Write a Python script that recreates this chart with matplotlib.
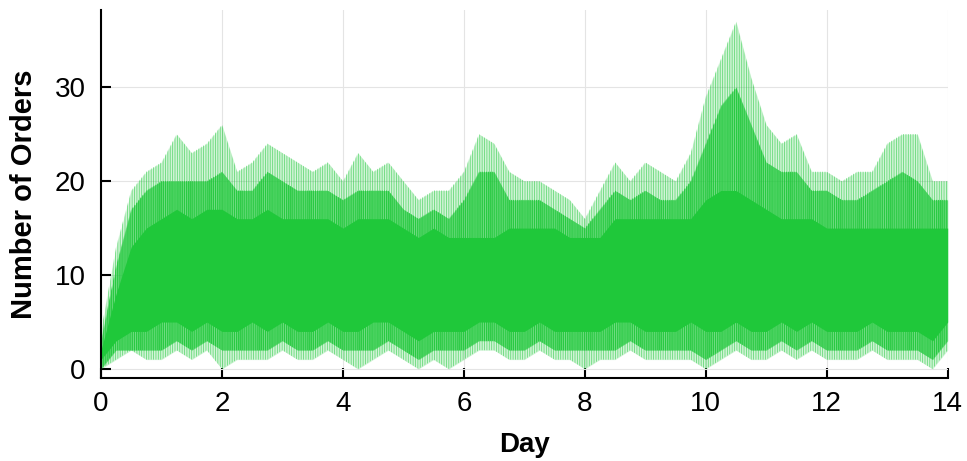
import numpy as np
import matplotlib.pyplot as plt

plt.rcParams["font.family"] = ["Liberation Sans", "DejaVu Sans"]
plt.rcParams["hatch.linewidth"] = 0.6

days = np.arange(0, 14.01, 0.25)

# highest value reached by any run
upper_max = [4, 13, 19, 21, 22, 25, 23, 24, 26, 21, 22, 24, 23, 22, 21, 22,
             20, 23, 21, 22, 20, 18, 19, 19, 21, 25, 24, 21, 20, 20, 19, 18,
             16, 19, 22, 20, 22, 21, 20, 23, 29, 33, 37, 31, 26, 24, 25, 21,
             21, 20, 21, 21, 24, 25, 25, 20, 20]
# top of the well-populated band
upper_mid = [3, 11, 17, 19, 20, 20, 20, 20, 21, 19, 19, 21, 20, 19, 19, 19,
             18, 19, 19, 19, 17, 16, 17, 16, 18, 21, 21, 18, 18, 18, 17, 16,
             15, 17, 19, 18, 19, 18, 18, 20, 24, 28, 30, 26, 22, 21, 21, 19,
             19, 18, 18, 19, 20, 21, 20, 18, 18]
# top of the solid core
upper_core = [2, 8, 13, 15, 16, 17, 16, 17, 17, 16, 16, 17, 16, 16, 16, 16,
              15, 16, 16, 16, 15, 14, 15, 14, 14, 14, 14, 15, 15, 15, 15, 14,
              14, 14, 16, 16, 16, 16, 16, 16, 18, 19, 19, 18, 17, 16, 16, 16,
              15, 15, 15, 15, 15, 15, 15, 15, 15]
# bottom of the solid core
lower_core = [1, 3, 4, 4, 5, 5, 4, 5, 4, 4, 5, 4, 5, 4, 4, 5,
              4, 4, 5, 5, 4, 3, 4, 4, 4, 5, 5, 4, 4, 5, 4, 4,
              4, 4, 5, 5, 4, 4, 4, 5, 4, 4, 5, 4, 4, 5, 4, 5,
              4, 4, 4, 5, 4, 4, 4, 3, 5]
# bottom of the well-populated band
lower_mid = [0, 2, 2, 2, 2, 3, 2, 3, 2, 2, 2, 2, 3, 2, 2, 3,
             2, 2, 2, 3, 2, 1, 2, 2, 2, 3, 3, 2, 2, 3, 2, 2,
             2, 2, 2, 3, 2, 2, 2, 2, 1, 2, 3, 2, 2, 3, 2, 3,
             2, 2, 2, 3, 2, 2, 2, 1, 3]
# lowest value reached by any run
lower_min = [0, 1, 2, 1, 1, 2, 1, 2, 0, 1, 1, 1, 2, 1, 1, 2,
             1, 0, 1, 2, 1, 0, 1, 0, 1, 2, 2, 1, 1, 2, 1, 1,
             0, 1, 1, 2, 1, 1, 1, 1, 0, 1, 2, 1, 1, 2, 1, 2,
             1, 1, 1, 2, 1, 1, 1, 0, 2]

green = "#1fc83a"

fig = plt.figure(figsize=(9.67, 4.61), dpi=100)
ax = fig.add_axes([0.1044, 0.180, 0.8756, 0.798])

# sparse outer band: faint fill with thin vertical strokes, like overlapping runs
ax.fill_between(days, lower_min, upper_max, color=green, alpha=0.2, lw=0)
ax.fill_between(days, lower_min, upper_max, facecolor="none", edgecolor=green,
                hatch="|||||||", lw=0, alpha=0.6)
ax.fill_between(days, lower_mid, upper_mid, color=green, alpha=0.55, lw=0)
ax.fill_between(days, lower_mid, upper_mid, facecolor="none", edgecolor=green,
                hatch="||||||||", lw=0)
ax.fill_between(days, lower_core, upper_core, color=green, lw=0)

ax.set_xlim(0, 14)
ax.set_ylim(-0.96, 38.2)
ax.set_xticks(range(0, 15, 2))
ax.set_yticks([0, 10, 20, 30])
ax.grid(True, color="#e4e4e4", lw=0.8)
ax.set_axisbelow(True)

for side in ("top", "right"):
    ax.spines[side].set_visible(False)
for side in ("left", "bottom"):
    ax.spines[side].set_linewidth(1.5)
ax.tick_params(direction="in", length=7, width=1.5, labelsize=20)
ax.tick_params(axis="y", pad=11)
ax.tick_params(axis="x", pad=9)

ax.set_xlabel("Day", fontsize=20, fontweight="bold", labelpad=11)
ax.set_ylabel("Number of Orders", fontsize=21, fontweight="bold", labelpad=12)

fig.savefig("out.png", dpi=100)
